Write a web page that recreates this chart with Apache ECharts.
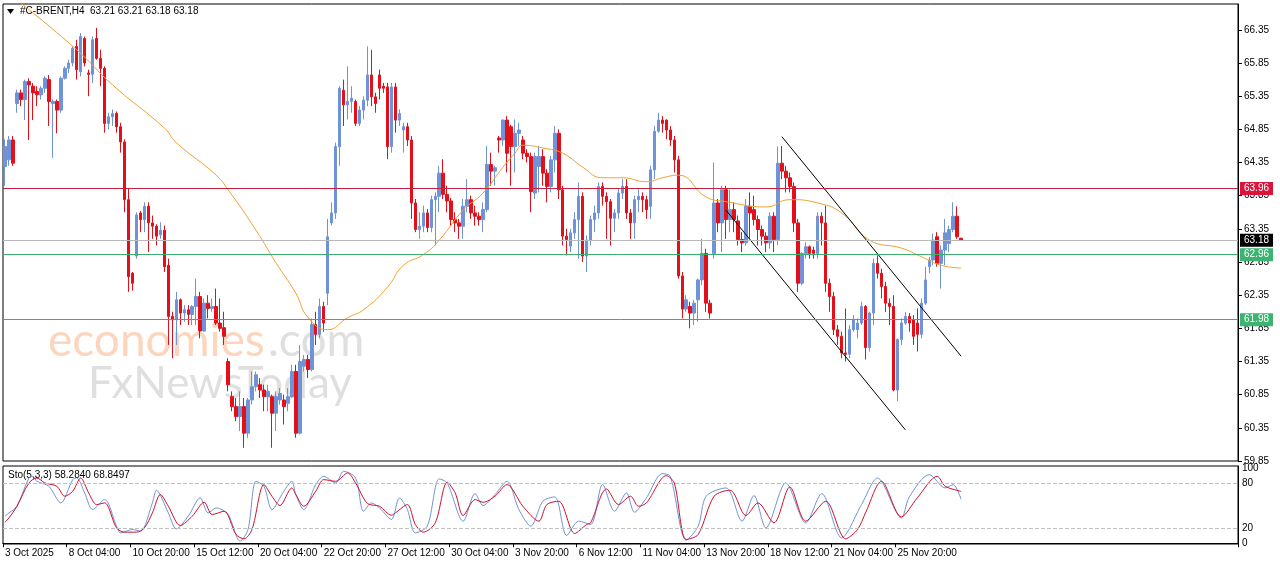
<!DOCTYPE html>
<html>
<head>
<meta charset="utf-8">
<title>#C-BRENT H4</title>
<style>
  body { margin: 0; background: #fff; }
  #chart { width: 1280px; height: 567px; }
</style>
</head>
<body>
<div id="chart"></div>
<script src="https://cdn.jsdelivr.net/npm/echarts@6/dist/echarts.min.js"></script>
<script>
// candles: [open, close, low, high]
var ohlc = [
  [64.29,64.59,64.0,64.7],[64.39,64.69,64.3,64.75],[64.69,64.34,64.3,64.75],[65.24,65.40,65.1,65.45],
  [65.40,65.30,65.2,65.45],[65.30,65.57,64.99,65.6],[65.57,65.52,64.69,65.62],[65.50,65.40,64.99,65.55],
  [65.42,65.37,65.2,65.5],[65.37,65.47,65.3,65.5],[65.47,65.62,65.4,65.65],[65.60,65.27,64.9,65.67],
  [65.24,65.27,64.42,65.3],[65.27,65.14,64.79,65.3],[65.14,65.62,65.1,65.65],[65.62,65.77,65.6,65.8],
  [65.77,65.85,65.7,65.9],[65.85,66.07,65.8,66.1],[66.10,65.75,65.6,66.2],[65.72,66.25,65.65,66.3],
  [66.22,65.85,65.8,66.25],[65.70,65.68,65.35,65.75],[65.68,66.20,65.55,66.25],[66.22,65.92,65.9,66.38],
  [65.92,65.77,65.5,66.05],[65.77,64.94,64.8,65.8],[64.94,65.04,64.85,65.1],[65.04,65.09,64.9,65.15],
  [65.09,64.89,64.8,65.12],[64.89,64.66,64.5,64.95],[64.66,63.79,63.6,64.7],[63.79,62.63,62.4,63.96],
  [62.68,62.53,62.42,62.7],[62.94,63.56,62.9,63.6],[63.59,63.49,63.3,63.62],[63.49,63.69,63.3,63.75],
  [63.69,63.44,63.0,63.75],[63.44,63.39,63.2,63.55],[63.39,63.24,63.1,63.42],[63.26,63.33,63.2,63.45],
  [63.33,62.78,62.7,63.4],[62.80,62.03,61.6,62.9],[62.03,61.98,61.4,62.1],[61.98,62.28,61.6,62.4],
  [62.28,62.08,61.9,62.3],[62.08,62.13,61.95,62.2],[62.13,62.06,61.9,62.2],[62.06,62.18,61.9,62.2],
  [62.18,62.33,61.9,62.6],[62.33,61.81,61.7,62.4],[61.81,62.23,61.8,62.3],[62.23,62.15,62.0,62.35],
  [62.15,62.18,62.1,62.3],[62.18,61.93,61.9,62.45],[61.93,61.85,61.8,62.3],[61.86,61.73,61.6,62.1],
  [61.35,61.00,60.9,61.4],[60.82,60.67,60.6,60.9],[60.67,60.52,60.45,60.8],[60.52,60.67,60.3,60.9],
  [60.67,60.27,60.05,60.8],[60.27,60.77,60.2,60.8],[60.77,60.97,60.7,61.2],[60.97,61.15,60.9,61.2],
  [61.00,60.92,60.8,61.1],[60.92,60.82,60.6,61.0],[60.82,60.90,60.6,61.0],[60.82,60.57,60.05,60.85],
  [60.57,60.82,60.3,60.9],[60.77,60.87,60.7,60.95],[60.77,60.67,60.4,60.85],[60.72,60.82,60.6,60.95],
  [60.82,61.20,60.8,61.3],[61.20,60.27,60.2,61.3],[60.27,61.35,60.25,61.6],[61.28,61.38,61.2,61.45],
  [61.38,61.23,61.1,61.45],[61.23,61.91,61.2,62.0],[61.91,61.76,61.6,62.1],[61.76,62.18,61.7,62.3],
  [62.18,61.93,61.8,62.25],[62.38,63.23,62.2,63.5],[63.44,63.59,63.4,63.75],[63.59,64.59,63.5,64.65],
  [64.59,65.47,64.3,65.5],[65.44,65.22,64.9,65.6],[65.22,65.27,65.0,65.8],[65.27,65.32,65.1,65.5],
  [65.27,64.94,64.9,65.3],[64.94,65.14,64.9,65.2],[65.14,65.29,65.0,65.35],[65.29,65.67,65.2,66.1],
  [65.67,65.34,65.2,66.05],[65.34,65.24,65.1,65.4],[65.67,65.47,65.3,65.75],[65.50,65.47,65.4,65.55],
  [65.49,64.59,64.4,65.55],[64.59,65.49,64.5,65.55],[65.49,64.99,64.8,65.55],[64.99,65.09,64.9,65.15],
  [64.84,64.89,64.5,64.95],[64.89,64.69,64.6,64.95],[64.69,63.74,63.5,64.75],[63.74,63.34,63.3,63.8],
  [63.34,63.39,63.2,63.6],[63.39,63.59,63.3,63.7],[63.59,63.37,63.3,63.65],[63.37,63.79,63.3,63.85],
  [63.79,63.84,63.1,63.9],[63.84,64.19,63.6,64.3],[64.19,63.87,63.8,64.4],[63.87,63.77,63.6,64.0],
  [63.77,63.49,63.4,63.82],[63.49,63.44,63.3,63.6],[63.44,63.39,63.2,63.5],[63.39,63.69,63.2,63.8],
  [63.69,63.79,63.6,64.1],[63.79,63.59,63.5,63.85],[63.59,63.54,63.4,63.7],[63.54,63.49,63.4,63.6],
  [63.49,63.64,63.3,63.75],[63.64,64.32,63.6,64.6],[64.32,64.22,64.0,64.5],[64.22,64.27,64.0,64.3],
  [64.72,64.69,64.5,64.75],[64.69,64.99,64.6,65.0],[64.99,64.49,64.2,65.05],[64.89,64.59,64.0,64.92],
  [64.59,64.79,64.2,65.0],[64.79,64.84,64.6,64.95],[64.69,64.49,64.4,64.75],[64.49,64.44,64.35,64.55],
  [64.44,63.91,63.6,64.5],[63.89,64.44,63.8,64.5],[64.29,64.44,63.9,64.6],[64.44,64.19,64.0,64.55],
  [64.19,63.99,63.75,64.25],[63.99,64.39,63.9,64.45],[64.39,64.79,64.2,64.9],[64.79,63.94,63.8,64.85],
  [63.94,63.24,63.1,64.0],[63.24,63.19,62.95,63.35],[63.09,63.29,63.0,63.35],[63.29,63.49,63.2,63.6],
  [63.49,63.84,62.9,64.05],[63.84,62.94,62.85,63.9],[62.94,63.18,62.7,63.25],[63.18,63.49,63.1,63.55],
  [63.49,63.59,63.3,63.7],[63.59,63.99,63.5,64.05],[63.99,63.84,63.7,64.05],[63.84,63.76,63.2,63.9],
  [63.76,63.51,63.1,63.8],[63.51,63.59,63.3,63.65],[63.59,63.89,63.5,63.95],[63.89,63.99,63.8,64.1],
  [63.99,63.59,63.5,64.1],[63.59,63.44,63.2,63.65],[63.44,63.79,63.2,63.85],[63.79,63.84,63.6,63.95],
  [63.84,63.79,63.6,63.9],[63.79,63.64,63.5,63.85],[63.69,64.24,63.5,64.3],[64.24,64.82,64.1,64.9],
  [64.82,64.99,64.8,65.1],[64.99,64.94,64.8,65.05],[64.99,64.84,64.7,65.0],[64.84,64.69,64.6,64.9],
  [64.69,64.39,64.2,64.75],[64.39,62.64,62.6,64.45],[62.64,62.14,62.0,62.7],[62.14,62.28,62.1,62.35],
  [62.18,62.08,61.85,62.25],[62.08,62.23,61.9,62.28],[62.28,62.58,61.95,62.6],[62.58,62.98,62.5,63.2],
  [62.98,62.23,62.1,63.05],[62.23,62.08,62.0,62.28],[62.98,63.74,62.9,64.35],[63.74,63.44,63.3,63.8],
  [63.44,63.94,63.0,64.0],[63.94,63.49,63.2,64.0],[63.49,63.64,63.3,63.94],[63.64,63.49,63.3,63.75],
  [63.47,63.19,63.1,63.55],[63.19,63.14,63.0,63.3],[63.14,63.69,63.1,63.8],[63.69,63.59,63.2,63.9],
  [63.64,63.49,63.4,63.85],[63.49,63.34,63.1,63.55],[63.34,63.24,63.1,63.4],[63.24,63.14,63.0,63.3],
  [63.14,63.54,63.05,63.6],[63.54,63.19,63.0,63.6],[63.19,64.34,63.1,64.59],[64.34,64.22,64.1,64.6],
  [64.22,64.12,63.9,64.3],[64.12,63.99,63.9,64.2],[63.99,63.44,63.3,64.05],[63.44,62.53,62.4,63.5],
  [62.53,62.98,62.5,63.0],[62.98,63.08,62.9,63.15],[63.08,62.98,62.9,63.1],[63.03,62.98,62.9,63.08],
  [62.98,63.54,62.9,63.6],[63.54,63.44,63.1,63.6],[63.44,62.53,62.4,63.7],[62.53,62.33,62.1,62.6],
  [62.33,61.83,61.75,62.4],[61.83,61.73,61.6,61.9],[61.73,61.48,61.4,61.8],[61.48,61.46,61.35,62.15],
  [61.46,61.83,61.4,61.9],[61.83,61.98,61.8,62.05],[61.83,61.93,61.7,62.0],[61.93,62.18,61.9,62.25],
  [62.18,61.56,61.38,62.2],[61.56,62.08,61.5,62.1],[62.08,62.83,61.9,62.9],[62.83,62.68,62.6,62.95],
  [62.68,62.48,62.3,62.75],[62.48,62.23,62.1,62.55],[62.23,62.18,61.9,62.3],[62.18,60.92,60.9,62.35],
  [60.92,61.68,60.75,61.7],[61.68,61.93,61.6,62.0],[61.93,62.03,61.9,62.1],[62.03,61.93,61.8,62.08],
  [61.98,61.73,61.6,62.05],[61.93,61.76,61.5,62.15],[61.76,62.23,61.7,62.3],[62.23,62.58,62.2,62.78],
  [62.78,62.88,62.68,62.93],[62.88,63.18,62.8,63.28],[63.23,62.83,62.78,63.3],[62.83,63.03,62.45,63.1],
  [63.03,63.29,62.8,63.5],[63.13,63.34,63.0,63.4],[63.34,63.54,63.3,63.75],[63.54,63.23,63.2,63.69],
  [63.21,63.18,63.18,63.21]
];

// moving average readings [candle index, price]
var maPoints = [
  [4,66.75],[18,66.05],[27,65.52],[40,64.87],[43,64.65],[53,64.16],[56,63.94],[63,63.33],[68,62.84],
  [73,62.38],[76,62.02],[81,61.83],[86,62.01],[90,62.13],[96,62.47],[100,62.8],[105,62.96],[109,63.18],
  [115,63.63],[120,63.89],[125,64.28],[128,64.49],[130,64.61],[135,64.57],[140,64.49],[145,64.28],
  [150,64.12],[155,64.12],[161,64.06],[165,64.12],[169,64.16],[176,63.83],[181,63.76],[191,63.68],
  [197,63.79],[204,63.74],[210,63.59],[217,63.18],[225,63.06],[230,62.93],[235,62.8],[240,62.76]
];

// stochastic %K (blue) and %D (red) [candle index, value]
var stochK = [
  [0,36],[1,40.3],[3,49.1],[6,86.6],[7,88.8],[8,82.2],[11,75.6],[14,53.5],[17,84.4],[18,86.6],[20,66.8],
  [22,44.7],[25,58],[28,22.7],[29,13.8],[32,18.2],[34,16],[37,53.5],[38,70.3],[41,40.3],[43,19.1],
  [46,35.9],[49,60.2],[51,40.3],[53,46.9],[56,38.1],[59,2.8],[61,18.2],[63,82.2],[65,75.6],[67,44.7],
  [70,69],[72,82.2],[73,64.6],[75,44.7],[78,77.8],[80,88.8],[83,80],[85,95.4],[88,86.6],[90,42.5],
  [92,53.5],[94,46.9],[97,31.5],[99,60.2],[101,44.7],[103,13.8],[106,22.7],[109,85.3],[111,80],
  [115,29.3],[118,65.9],[120,50],[123,64.6],[126,82.2],[129,44.7],[132,22.7],[135,55.7],[138,61.5],
  [141,10.3],[144,29.3],[147,24.9],[150,77.8],[153,42.5],[156,66.8],[158,41.2],[161,60.2],[165,92.3],
  [167,88.8],[171,4.1],[174,22.7],[176,62.4],[181,73.4],[185,29.3],[188,63.2],[191,20.4],[196,80],
  [201,27.1],[205,65.9],[210,7.2],[215,51.3],[219,86.6],[225,33.7],[227,61.5],[232,91],[236,73.4],
  [238,77.8],[240,58.28]
];
var stochD = [
  [0,28],[1,33.7],[3,49.1],[6,80],[8,86.6],[10,80],[13,75.6],[15,62.4],[17,69],[19,86.6],[21,66.8],
  [23,51.3],[25,53.5],[28,20.4],[30,14.7],[33,14.7],[35,20.4],[37,40.3],[39,64.6],[41,49.1],[44,23.5],
  [47,35.9],[50,54.4],[52,38.1],[55,42.5],[58,11.6],[60,5.9],[62,18.2],[65,77.8],[67,62.4],[69,50],
  [72,73.4],[73,64.6],[75,49.1],[78,69],[80,84.4],[83,82.2],[86,93.2],[88,80],[91,52.7],[94,49.1],
  [97,37.2],[98,40.3],[101,51.3],[103,24.9],[105,14.7],[108,27.1],[111,80.9],[113,66.8],[115,36.8],
  [118,57.9],[120,54.4],[123,62.4],[126,77.8],[130,49.1],[134,29.3],[136,51.3],[139,55.7],[143,13],
  [146,24.9],[147,27.1],[151,72.1],[154,51.3],[157,62.4],[159,49.1],[161,53.5],[166,89.7],[168,80],
  [171,5],[174,11.6],[178,62.4],[182,70.3],[186,36.8],[189,53.5],[193,27.1],[197,74.7],[201,29.3],
  [206,55.7],[211,5.9],[214,18.2],[216,40.3],[220,82.2],[225,35],[229,60.2],[234,88.8],[236,75.6],
  [240,68.85]
];

// channel lines drawn on the chart [candle index, price]
var channelUpper = [[195,64.74],[240,61.43]];
var channelLower = [[181,63.63],[226,60.32]];

var levelRed = 63.96, levelBid = 63.18, levelGreen1 = 62.96, levelGreen2 = 61.98;

var dateLabels = ['3 Oct 2025','8 Oct 04:00','10 Oct 20:00','15 Oct 12:00','20 Oct 04:00','22 Oct 20:00',
  '27 Oct 12:00','30 Oct 04:00','3 Nov 20:00','6 Nov 12:00','11 Nov 04:00','13 Nov 20:00',
  '18 Nov 12:00','21 Nov 04:00','25 Nov 20:00'];
var labelStep = 16;
var totalSlots = 310;

var cats = [];
for (var i = 0; i < totalSlots; i++) {
  var k = i / labelStep;
  cats.push(i % labelStep === 0 && k < dateLabels.length ? dateLabels[k] : '');
}

var chart = echarts.init(document.getElementById('chart'));
var font = 'Liberation Sans';
var up = '#6f93d8', down = '#e3101a';

function lvlLabel(bg, fg) {
  return { show: true, position: 'end', distance: 2, formatter: function (p) { return p.value.toFixed(2); },
    backgroundColor: bg, color: fg, padding: [2, 4, 1, 4], fontSize: 10, fontFamily: font };
}

chart.setOption({
  animation: false,
  backgroundColor: '#fff',
  grid: [
    { left: 3, right: 42, top: 4, height: 457, show: true, borderColor: '#000', borderWidth: 1 },
    { left: 3, right: 42, top: 466, height: 78, show: true, borderColor: '#000', borderWidth: 1 }
  ],
  xAxis: [
    { type: 'category', gridIndex: 0, data: cats, boundaryGap: true,
      axisLine: { show: false }, axisTick: { show: false }, axisLabel: { show: false }, splitLine: { show: false } },
    { type: 'category', gridIndex: 1, data: cats, boundaryGap: true,
      axisLine: { lineStyle: { color: '#000' } },
      axisTick: { show: true, length: 4, interval: function (i, v) { return v !== ''; }, lineStyle: { color: '#000' } },
      axisLabel: { interval: function (i, v) { return v !== ''; }, hideOverlap: false, align: 'left', margin: 4,
        color: '#000', fontSize: 10, fontFamily: font },
      splitLine: { show: false } }
  ],
  yAxis: [
    { type: 'value', gridIndex: 0, position: 'right', min: 59.85, max: 66.74, interval: 0.5,
      axisLine: { show: true, lineStyle: { color: '#000' } },
      axisTick: { show: true, length: 4, lineStyle: { color: '#000' } },
      axisLabel: { showMaxLabel: false, margin: 6, color: '#000', fontSize: 10, fontFamily: font,
        formatter: function (v) { return v.toFixed(2); } },
      splitLine: { show: false } },
    { type: 'value', gridIndex: 1, position: 'right', min: -1, max: 102.5,
      axisLine: { show: true, lineStyle: { color: '#000' } },
      axisTick: { show: false },
      axisLabel: { customValues: [0, 20, 80, 100], margin: 4, color: '#000', fontSize: 10, fontFamily: font },
      splitLine: { show: false } }
  ],
  series: [
    { type: 'candlestick', xAxisIndex: 0, yAxisIndex: 0, data: ohlc, barWidth: 3,
      itemStyle: { color: up, color0: down, borderColor: up, borderColor0: down, borderWidth: 1 },
      markLine: { symbol: 'none', silent: true, animation: false, data: [
        { yAxis: levelRed, lineStyle: { color: '#c8203a', width: 1, type: 'solid' }, label: lvlLabel('#dc143c', '#fff') },
        { yAxis: levelBid, lineStyle: { color: '#b8b8b8', width: 1, type: 'solid' }, label: lvlLabel('#000', '#fff') },
        { yAxis: levelGreen1, lineStyle: { color: '#3cae6e', width: 1, type: 'solid' }, label: lvlLabel('#3cb371', '#fff') },
        { yAxis: levelGreen2, lineStyle: { color: '#3cae6e', width: 1, type: 'solid' }, label: lvlLabel('#3cb371', '#fff') }
      ] } },
    { type: 'line', xAxisIndex: 0, yAxisIndex: 0, data: maPoints, smooth: true, showSymbol: false,
      lineStyle: { color: '#f0a030', width: 1 }, z: 3 },
    { type: 'line', xAxisIndex: 0, yAxisIndex: 0, data: channelUpper, showSymbol: false,
      lineStyle: { color: '#000', width: 1 } },
    { type: 'line', xAxisIndex: 0, yAxisIndex: 0, data: channelLower, showSymbol: false,
      lineStyle: { color: '#000', width: 1 } },
    { type: 'line', xAxisIndex: 1, yAxisIndex: 1, data: stochK, smooth: 0.3, showSymbol: false,
      lineStyle: { color: '#6f93d8', width: 1 },
      markLine: { symbol: 'none', silent: true, label: { show: false },
        lineStyle: { color: '#c0c0c0', type: 'dashed', width: 1 }, data: [{ yAxis: 80 }, { yAxis: 20 }] } },
    { type: 'line', xAxisIndex: 1, yAxisIndex: 1, data: stochD, smooth: 0.3, showSymbol: false,
      lineStyle: { color: '#d0102a', width: 1 } }
  ],
  graphic: [
    { type: 'polygon', shape: { points: [[7, 9], [14, 9], [10.5, 14]] }, style: { fill: '#000' } },
    { type: 'text', left: 20, top: 6, style: { text: '#C-BRENT,H4  63.21 63.21 63.18 63.18',
      fill: '#000', font: '10px ' + font } },
    { type: 'text', left: 8, top: 470, style: { text: 'Sto(5,3,3) 58.2840 68.8497', fill: '#000', font: '10px ' + font } },
    { type: 'text', left: 48, top: 318, style: { text: 'economies', fill: 'rgba(250,150,90,0.4)',
      font: '46px Lato' } },
    { type: 'text', left: 268, top: 318, style: { text: '.com', fill: 'rgba(150,150,150,0.3)',
      font: '46px Lato' } },
    { type: 'text', left: 88, top: 362, style: { text: 'FxNewsToday', fill: 'rgba(150,150,150,0.3)',
      font: '44px Lato' } }
  ]
});
</script>
</body>
</html>
